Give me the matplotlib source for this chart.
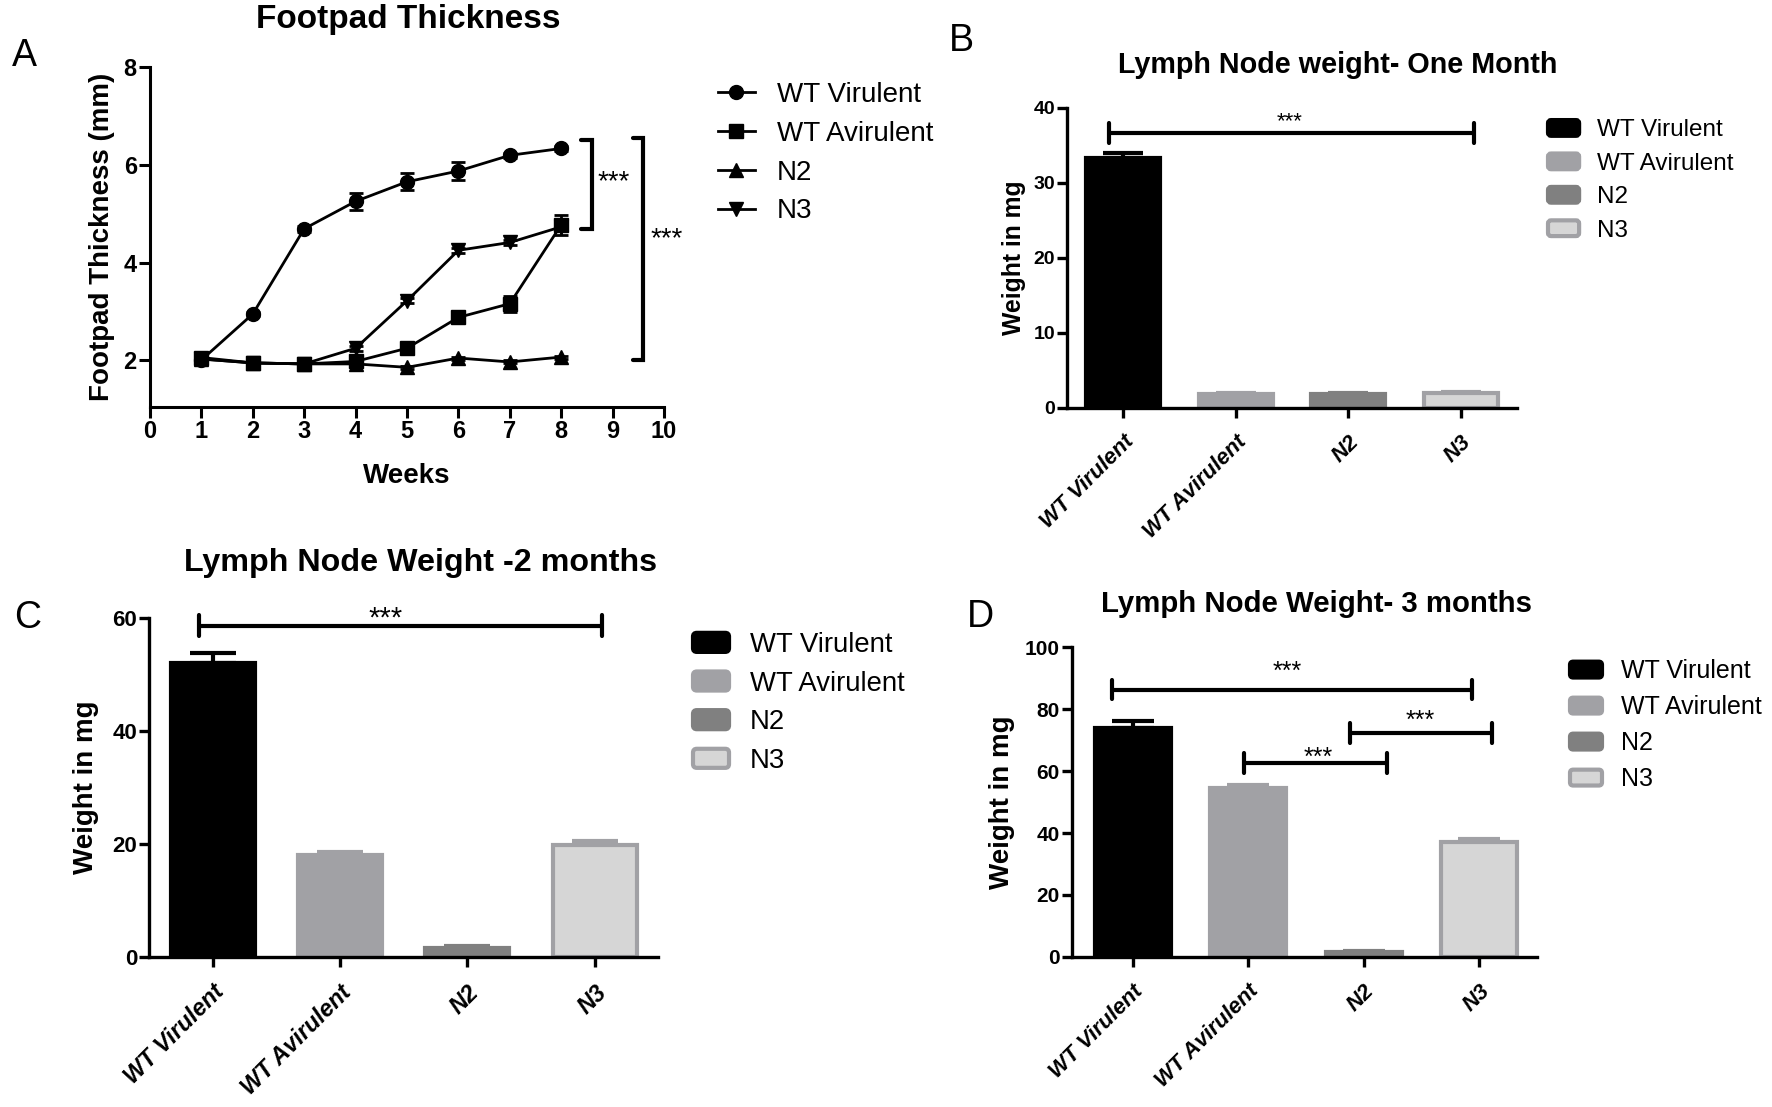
import matplotlib
matplotlib.use("Agg")
import matplotlib.pyplot as plt
from matplotlib.patches import Rectangle, FancyBboxPatch
from matplotlib.legend_handler import HandlerPatch

plt.rcParams['font.family'] = ['Liberation Sans', 'DejaVu Sans']

# ---------------- data ----------------
weeks = [1, 2, 3, 4, 5, 6, 7, 8]
a_labels = ["WT Virulent", "WT Avirulent", "N2", "N3"]
a_wt_vir = [2.01, 2.95, 4.69, 5.25, 5.65, 5.87, 6.19, 6.33]
a_wt_vir_err = [0.04, 0.05, 0.06, 0.17, 0.17, 0.19, 0.05, 0.05]
a_wt_avir = [2.06, 1.95, 1.93, 1.98, 2.25, 2.88, 3.16, 4.77]
a_wt_avir_err = [0.07, 0.09, 0.05, 0.05, 0.08, 0.08, 0.16, 0.20]
a_n2 = [2.03, 1.95, 1.93, 1.93, 1.86, 2.05, 1.97, 2.07]
a_n2_err = [0.03, 0.03, 0.03, 0.03, 0.03, 0.03, 0.03, 0.03]
a_n3 = [2.03, 1.95, 1.93, 2.25, 3.22, 4.25, 4.41, 4.73]
a_n3_err = [0.03, 0.03, 0.03, 0.05, 0.05, 0.05, 0.05, 0.08]
a_xticks = list(range(0, 11))
a_yticks = [2, 4, 6, 8]

categories = ["WT Virulent", "WT Avirulent", "N2", "N3"]
b_vals = [33.2, 1.85, 1.8, 1.95]
b_err = [0.8, 0.08, 0.08, 0.12]
b_yticks = [0, 10, 20, 30, 40]
c_vals = [52.1, 18.0, 1.6, 19.9]
c_err = [1.8, 0.5, 0.3, 0.7]
c_yticks = [0, 20, 40, 60]
d_vals = [73.9, 54.4, 1.6, 37.2]
d_err = [2.4, 1.2, 0.2, 1.0]
d_yticks = [0, 20, 40, 60, 80, 100]

bar_face = ["#000000", "#a1a1a5", "#808080", "#d6d6d6"]
bar_edge = ["#000000", "#a1a1a5", "#808080", "#a1a1a5"]

# ---------------- figure ----------------
W, H, DPI = 1772, 1107, 100
fig = plt.figure(figsize=(W / DPI, H / DPI), dpi=DPI)


def px_axes(l, t, r, b):
    return fig.add_axes([l / W, 1 - b / H, (r - l) / W, (b - t) / H])


def ftext(x, yc, s, size, **kw):
    base = yc + 0.358 * size * DPI / 72
    fig.text(x / W, 1 - base / H, s, fontsize=size, ha='center', va='baseline', **kw)


def style(ax, lw, tlen, tick_fs):
    for sp in ['top', 'right']:
        ax.spines[sp].set_visible(False)
    for sp in ['left', 'bottom']:
        ax.spines[sp].set_linewidth(lw)
    ax.tick_params(direction='out', length=tlen, width=lw, labelsize=tick_fs, pad=1.5)


def stars(ax, x, y, fs):
    ax.annotate('***', xy=(x, y), xytext=(0, -0.58 * fs), textcoords='offset points',
                ha='center', va='baseline', fontsize=fs, annotation_clip=False)


def bracket_h(ax, x0, x1, y, cap, lw=3):
    ax.plot([x0, x1], [y, y], color='black', lw=lw, clip_on=False, solid_capstyle='butt')
    for x in (x0, x1):
        ax.plot([x, x], [y - cap, y + cap], color='black', lw=lw, clip_on=False,
                solid_capstyle='round')


def rounded_patch(legend, orig_handle, xdescent, ydescent, width, height, fontsize):
    return FancyBboxPatch((-xdescent, -ydescent), width, height,
                          boxstyle=f"round,pad=0,rounding_size={0.2 * height}")


# ---------------- Panel A ----------------
axA = px_axes(150, 66.7, 664, 407)
style(axA, 2.2, 8, 17)
series = [(a_wt_vir, a_wt_vir_err, 'o'), (a_wt_avir, a_wt_avir_err, 's'),
          (a_n2, a_n2_err, '^'), (a_n3, a_n3_err, 'v')]
lines = []
for (vals, errs, mk), lab in zip(series, a_labels):
    cont = axA.errorbar(weeks, vals, yerr=errs, fmt='-' + mk, color='black', lw=2,
                        ms=10, elinewidth=2, capsize=5, capthick=2, label=lab, zorder=3)
    lines.append(cont.lines[0])
axA.set_xlim(0, 10)
axA.set_ylim(1.05, 8)
axA.set_xticks(a_xticks)
axA.set_yticks(a_yticks)
plt.setp(axA.get_xticklabels() + axA.get_yticklabels(), fontweight='bold')
axA.set_xlabel('Weeks', fontsize=20, fontweight='bold')
axA.xaxis.set_label_coords(0.5, -0.1646)
axA.set_ylabel('Footpad Thickness (mm)', fontsize=20, fontweight='bold')
axA.yaxis.set_label_coords(-0.0685, 0.5)
# significance brackets (vertical)
for xb, y0, y1, arm in [(8.6, 4.68, 6.5, 0.22), (9.6, 2.0, 6.55, 0.2)]:
    axA.plot([xb - arm, xb, xb, xb - arm], [y1, y1, y0, y0], color='black', lw=3,
             clip_on=False, solid_joinstyle='miter', solid_capstyle='round')
stars(axA, 9.02, 5.82, 20)
stars(axA, 10.06, 4.67, 20)
axA.legend(handles=lines, labels=a_labels, loc='upper left',
           bbox_to_anchor=(718 / W, 1 - 82 / H), bbox_transform=fig.transFigure,
           frameon=False, borderpad=0, borderaxespad=0, fontsize=20,
           handlelength=1.33, handletextpad=0.79, labelspacing=0.46)
ftext(408, 16, 'Footpad Thickness', 24, fontweight='bold')
ftext(24, 53, 'A', 27)


# ---------------- Bar panels ----------------
def bar_panel(ax, vals, errs, xlim, ylim, yticks, cap, tick_fs, xtick_fs, lab_fs, lab_x):
    style(ax, 2.4, 7, tick_fs)
    conts = []
    for i, (v, e, fc, ec, lab) in enumerate(zip(vals, errs, bar_face, bar_edge, categories)):
        bc = ax.bar(i, v, width=0.66, color=fc, edgecolor=ec, linewidth=3, label=lab, zorder=2)
        ax.errorbar(i, v, yerr=[[0], [e]], fmt='none', ecolor=ec, elinewidth=3,
                    capsize=cap, capthick=3, zorder=1)
        conts.append(bc.patches[0])
    ax.set_xlim(*xlim)
    ax.set_ylim(*ylim)
    ax.set_yticks(yticks)
    ax.set_xticks(range(len(categories)))
    ax.set_xticklabels(categories, rotation=45, ha='right', va='top', rotation_mode='anchor',
                       fontweight='bold', fontstyle='italic', fontsize=xtick_fs)
    ax.tick_params(axis='x', pad=10)
    plt.setp(ax.get_yticklabels(), fontweight='bold')
    ax.set_ylabel('Weight in mg', fontsize=lab_fs, fontweight='bold')
    ax.yaxis.set_label_coords(lab_x, 0.5)
    return conts


hm = {Rectangle: HandlerPatch(patch_func=rounded_patch)}

# Panel B
axB = px_axes(1066.8, 107.5, 1517, 407.5)
hB = bar_panel(axB, b_vals, b_err, (-0.503, 3.5), (0, 40), b_yticks, 14.4, 14, 16, 17.8, -0.0906)
bracket_h(axB, -0.13, 3.12, 36.6, 1.33)
stars(axB, 1.48, 39.1, 16)
axB.legend(handles=hB, labels=categories, handler_map=hm, loc='upper left',
           bbox_to_anchor=(1548 / W, 1 - 119.5 / H), bbox_transform=fig.transFigure,
           frameon=False, borderpad=0, borderaxespad=0, fontsize=17.5,
           handlelength=1.28, handleheight=0.62, handletextpad=0.74, labelspacing=0.47)
ftext(1338, 62.5, 'Lymph Node weight- One Month', 20.7, fontweight='bold')
ftext(961, 37.5, 'B', 27)

# Panel C
axC = px_axes(149, 618.3, 658.4, 956.9)
hC = bar_panel(axC, c_vals, c_err, (-0.5, 3.5), (0, 60), c_yticks, 16.6, 16, 17, 20, -0.098)
bracket_h(axC, -0.107, 3.056, 58.7, 1.9)
stars(axC, 1.36, 61.6, 21)
axC.legend(handles=hC, labels=categories, handler_map=hm, loc='upper left',
           bbox_to_anchor=(693 / W, 1 - 632 / H), bbox_transform=fig.transFigure,
           frameon=False, borderpad=0, borderaxespad=0, fontsize=19.8,
           handlelength=1.31, handleheight=0.69, handletextpad=0.76, labelspacing=0.46)
ftext(421, 559.4, 'Lymph Node Weight -2 months', 23.2, fontweight='bold')
ftext(28, 614.7, 'C', 27)

# Panel D
axD = px_axes(1071.5, 647.2, 1536.9, 956.9)
hD = bar_panel(axD, d_vals, d_err, (-0.53, 3.5), (0, 100), d_yticks, 14.8, 15, 16, 20, -0.121)
bracket_h(axD, -0.18, 2.94, 86.3, 3.1)
bracket_h(axD, 0.96, 2.20, 62.5, 3.2)
bracket_h(axD, 1.88, 3.11, 72.4, 3.2)
stars(axD, 1.34, 94.4, 18)
stars(axD, 1.61, 66.8, 18)
stars(axD, 2.49, 78.6, 18)
axD.legend(handles=hD, labels=categories, handler_map=hm, loc='upper left',
           bbox_to_anchor=(1570 / W, 1 - 659.4 / H), bbox_transform=fig.transFigure,
           frameon=False, borderpad=0, borderaxespad=0, fontsize=18,
           handlelength=1.28, handleheight=0.6, handletextpad=0.76, labelspacing=0.48)
ftext(1316.7, 601.9, 'Lymph Node Weight- 3 months', 21.2, fontweight='bold')
ftext(980.5, 614, 'D', 27)

fig.savefig('out.png', dpi=DPI)
